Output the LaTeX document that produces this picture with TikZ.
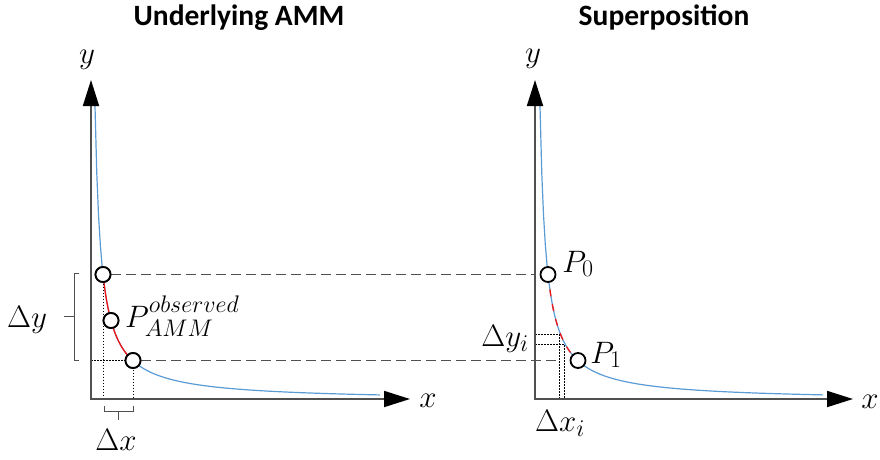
\RequirePackage{fix-cm}
\documentclass[tikz,border=0pt]{standalone}
\usepackage{fontspec}
\newfontfamily\titlefont{Carlito}
\DeclareMathSizes{31}{31}{24}{18}
\usetikzlibrary{arrows.meta}
\definecolor{curveblue}{RGB}{91,155,213}
\definecolor{axisgray}{RGB}{80,80,80}
\definecolor{curvered}{RGB}{240,20,20}
\begin{document}
\begin{tikzpicture}[x=1pt,y=-1pt,
  axisline/.style={draw=axisgray, line width=1.8pt,
    {Triangle[length=26pt,width=16pt,color=black]}-{Triangle[length=26pt,width=16pt,color=black]}},
  curveline/.style={draw=curveblue, line width=1.2pt},
  redline/.style={draw=curvered, line width=1.3pt},
  dot/.style={circle, draw=black, fill=white, line width=1.8pt, minimum size=15pt, inner sep=0pt},
  dashline/.style={draw=axisgray, line width=1.5pt, dash pattern=on 10pt off 5pt},
  fineline/.style={draw=black, line width=0.7pt, dash pattern=on 1.8pt off 1.2pt},
  bracket/.style={draw=axisgray, line width=1pt},
  lbl/.style={inner sep=0pt, font=\fontsize{31}{34}\selectfont},
  title/.style={inner sep=0pt, anchor=base, font=\titlefont\bfseries\fontsize{29.5}{32}\selectfont}]
\useasboundingbox (0,0) rectangle (880,459);

% titles
\node[title] (t1) at (239,25) {Underlying AMM};
\node[title] (t2) at (664,25) {Superposition};

% ---------- left chart ----------
\coordinate (ytip1) at (91,80);
\coordinate (o1) at (91,399);
\coordinate (xtip1) at (410,399);
\draw[curveline] plot[domain=4:289,samples=160] ({91+\x},{399-1770/(\x+2)+2});
\draw[redline] plot[domain=12:42,samples=60] ({91+\x},{399-1770/(\x+2)+2});

\node[dot] (a0) at (103,274.5) {};
\node[dot] (am) at (111,320.5) {};
\node[dot] (a1) at (133,360.5) {};

% right chart axis coordinates
\coordinate (ytip2) at (535,80);
\coordinate (o2) at (535,399);
\coordinate (xtip2) at (853,399);

% dashed connectors
\draw[fineline] (a0.center) -- (a0.center |- o1);
\draw[fineline] (a1.center) -- (a1.center |- o1);
\draw[fineline] (a1.center -| o1) -- (a1.west);
\draw[dashline] (a0.east) -- (a0 -| o2);
\coordinate (d1end) at (561,360.5);
\draw[dashline] (a1.east) -- (d1end);

\draw[axisline] (ytip1) -- (o1) -- (xtip1);

% redraw circles on top
\node[dot] at (a0) {};
\node[dot] at (am) {};
\node[dot] at (a1) {};

% brackets
\coordinate (bx1) at (104,411);
\coordinate (bx2) at (133,411);
\draw[bracket] (104,406) -- (bx1) -- (bx2) -- (133,406);
\coordinate (bxm) at (118.5,411);
\coordinate (bxt) at (118.5,420);
\draw[bracket] (bxm) -- (bxt);
\draw[bracket] (79,273) -- (74,273) -- (74,360) -- (79,360);
\coordinate (bym) at (74,316.5);
\coordinate (byt) at (64,316.5);
\draw[bracket] (bym) -- (byt);

% labels left
\node[lbl] (ylab1) at (87,60) {$y$};
\node[lbl] (xlab1) at (428,401) {$x$};
\node[lbl] (dy) at (27,320) {$\Delta y$};
\node[lbl] (dx) at (116,440) {$\Delta x$};
\node[lbl, anchor=base west] (pobs) at (125,327)
  {$P^{\raisebox{3pt}{$\scriptstyle observed$}}_{\raisebox{-2pt}{$\scriptstyle AMM$}}$};

% ---------- right chart ----------
\draw[curveline] plot[domain=5:288,samples=160] ({535+\x},{399-1770/(\x+1)+2});
\draw[redline, dash pattern=on 7pt off 8pt] plot[domain=13:43,samples=60] ({535+\x},{399-1770/(\x+1)+2});

\node[dot] (b0) at (548,274.5) {};
\node[dot] (b1) at (578,360.5) {};

\coordinate (q1) at (559,334);
\coordinate (q2) at (564,344);
\draw[fineline] (q1 -| o2) -- (q1) -- (q1 |- o2);
\draw[fineline] (q2 -| o2) -- (q2) -- (q2 |- o2);

\draw[axisline] (ytip2) -- (o2) -- (xtip2);

\node[lbl] (ylab2) at (533,59) {$y$};
\node[lbl] (xlab2) at (870,402) {$x$};
\node[lbl] (p0) at (578,264) {$P_0$};
\node[lbl] (p1) at (606,355) {$P_1$};
\node[lbl] (dyi) at (505,339) {$\Delta y_i$};
\node[lbl] (dxi) at (560,423) {$\Delta x_i$};
\end{tikzpicture}
\end{document}
